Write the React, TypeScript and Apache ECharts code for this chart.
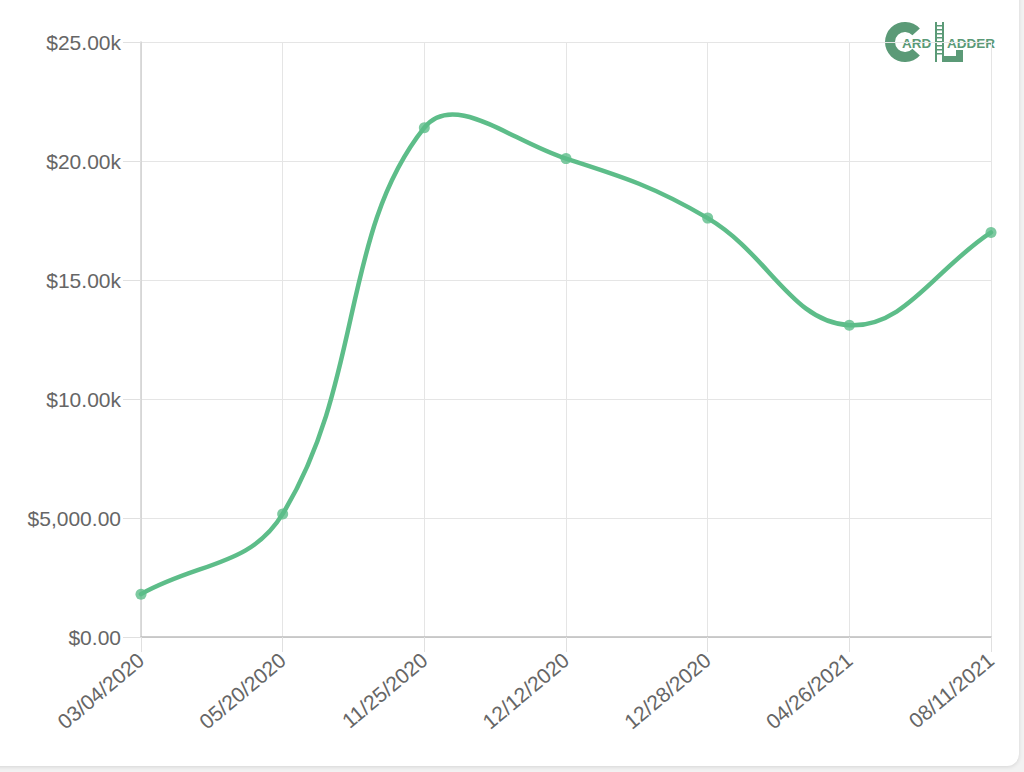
import React, { useEffect, useRef } from "react";
import * as echarts from "echarts";

const categories = ["03/04/2020", "05/20/2020", "11/25/2020", "12/12/2020", "12/28/2020", "04/26/2021", "08/11/2021"];
const values = [1800, 5170, 21400, 20100, 17600, 13100, 17000];
const yTicks = [0, 5000, 10000, 15000, 20000, 25000];

const LINE = "#5dbd89";
const LOGO = "#5b9a77";
const FONT = "Liberation Sans";
const TENSION = 0.4;

function fmt(v: number): string {
  if (v >= 10000) return "$" + (v / 1000).toFixed(2) + "k";
  return "$" + v.toLocaleString("en-US", { minimumFractionDigits: 2, maximumFractionDigits: 2 });
}

function logo(): any[] {
  const els: any[] = [];
  els.push({
    type: "sector",
    shape: { cx: 905, cy: 42, r: 20, r0: 10, startAngle: (42 * Math.PI) / 180, endAngle: (318 * Math.PI) / 180, clockwise: true },
    style: { fill: LOGO },
  });
  els.push({ type: "text", x: 902, y: 43, style: { text: "ARD", fill: LOGO, fontFamily: FONT, fontWeight: "bold", fontSize: 13.5, verticalAlign: "middle", align: "left" } });
  els.push({ type: "rect", shape: { x: 935, y: 22, width: 2, height: 40 }, style: { fill: LOGO } });
  els.push({ type: "rect", shape: { x: 942, y: 22, width: 2, height: 40 }, style: { fill: LOGO } });
  for (let yy = 25; yy < 56; yy += 4) {
    els.push({ type: "rect", shape: { x: 937, y: yy, width: 5, height: 1.5 }, style: { fill: LOGO } });
  }
  els.push({ type: "rect", shape: { x: 942, y: 56, width: 21, height: 6 }, style: { fill: LOGO } });
  els.push({ type: "rect", shape: { x: 956, y: 50, width: 7, height: 12 }, style: { fill: LOGO } });
  els.push({ type: "text", x: 947, y: 43, style: { text: "ADDER", fill: LOGO, fontFamily: FONT, fontWeight: "bold", fontSize: 13.5, verticalAlign: "middle", align: "left" } });
  return els;
}

// Chart.js-style spline (tension) through the points, computed in pixel space
function splinePath(pts: number[][]): string {
  const n = pts.length;
  const cps: { c1: number[]; c2: number[] }[] = [];
  for (let i = 0; i < n; i++) {
    const prev = pts[Math.max(0, i - 1)];
    const cur = pts[i];
    const next = pts[Math.min(n - 1, i + 1)];
    const d01 = Math.hypot(cur[0] - prev[0], cur[1] - prev[1]);
    const d12 = Math.hypot(next[0] - cur[0], next[1] - cur[1]);
    let s01 = d01 / (d01 + d12);
    let s12 = d12 / (d01 + d12);
    if (isNaN(s01)) s01 = 0;
    if (isNaN(s12)) s12 = 0;
    const fa = TENSION * s01;
    const fb = TENSION * s12;
    cps.push({
      c1: [cur[0] - fa * (next[0] - prev[0]), cur[1] - fa * (next[1] - prev[1])],
      c2: [cur[0] + fb * (next[0] - prev[0]), cur[1] + fb * (next[1] - prev[1])],
    });
  }
  let d = `M${pts[0][0]},${pts[0][1]}`;
  for (let i = 0; i < n - 1; i++) {
    const a = cps[i].c2;
    const b = cps[i + 1].c1;
    const p = pts[i + 1];
    d += ` C${a[0]},${a[1]} ${b[0]},${b[1]} ${p[0]},${p[1]}`;
  }
  return d;
}

export default function App() {
  const ref = useRef<HTMLDivElement>(null);
  useEffect(() => {
    if (!ref.current) return;
    const chart = echarts.init(ref.current, null, { renderer: "svg" });
    const axisLabelStyle = { color: "#666", fontSize: 21, fontFamily: FONT };
    chart.setOption({
      animation: false,
      backgroundColor: "transparent",
      grid: { left: 141, right: 33, top: 42, bottom: 135, containLabel: false },
      xAxis: {
        type: "category",
        data: categories,
        boundaryGap: false,
        axisLine: { show: true, lineStyle: { color: "#bdbdbd", width: 1.5 } },
        axisTick: { show: true, length: 15, alignWithLabel: true, lineStyle: { color: "#e0e0e0" } },
        splitLine: { show: true, lineStyle: { color: "#e5e5e5", width: 1 } },
        axisLabel: { ...axisLabelStyle, rotate: 40, margin: 20 },
      },
      yAxis: {
        type: "value",
        min: 0,
        max: 25000,
        interval: 5000,
        axisLine: { show: true, lineStyle: { color: "#d0d0d0", width: 1.5 } },
        axisTick: { show: true, length: 18, lineStyle: { color: "#e0e0e0" } },
        splitLine: { show: true, lineStyle: { color: "#e5e5e5", width: 1 } },
        axisLabel: {
          ...axisLabelStyle,
          margin: 20,
          formatter: (v: number) => (yTicks.includes(v) ? fmt(v) : ""),
        },
      },
      series: [
        {
          type: "custom",
          data: values.map((v, i) => [i, v]),
          encode: { x: 0, y: 1 },
          silent: true,
          renderItem: (params: any, api: any) => {
            if (params.dataIndex !== 0) return null;
            const pts = values.map((v, i) => api.coord([i, v]));
            return {
              type: "path",
              shape: { pathData: splinePath(pts) },
              style: { stroke: LINE, lineWidth: 4.5, fill: "none", lineCap: "round", lineJoin: "round" },
            };
          },
        },
        {
          type: "scatter",
          data: values,
          symbol: "circle",
          symbolSize: 11,
          itemStyle: { color: LINE },
          emphasis: { disabled: true },
        },
      ],
      graphic: logo(),
    });
    return () => chart.dispose();
  }, []);

  return (
    <div style={{ position: "fixed", left: 0, top: 0, width: 1024, height: 772, background: "#f2f2f2", overflow: "hidden" }}>
      <div
        style={{
          position: "absolute",
          left: -20,
          top: -20,
          width: 1039,
          height: 786,
          background: "#ffffff",
          borderRadius: 12,
          boxShadow: "0 1px 4px rgba(0,0,0,0.12)",
        }}
      />
      <div ref={ref} style={{ position: "absolute", left: 0, top: 0, width: 1024, height: 772 }} />
    </div>
  );
}
